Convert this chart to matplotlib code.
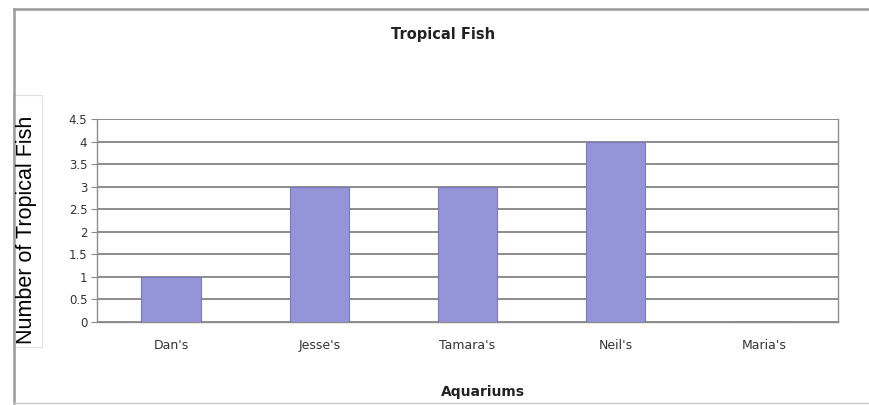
import matplotlib.pyplot as plt
from matplotlib.lines import Line2D
from matplotlib.patches import Rectangle

# data
aquariums = ["Dan's", "Jesse's", "Tamara's", "Neil's", "Maria's"]
fish_counts = [1, 3, 3, 4, 0]
y_ticks = [0, 0.5, 1, 1.5, 2, 2.5, 3, 3.5, 4, 4.5]
y_tick_labels = ["0", "0.5", "1", "1.5", "2", "2.5", "3", "3.5", "4", "4.5"]

W, H = 869, 405
fig = plt.figure(figsize=(W / 100, H / 100), dpi=100)
fig.patch.set_facecolor('white')

# outer chart frame (left, top and bottom edges)
frame_col = '#9a9a9a'
fig.add_artist(Line2D([14 / W, 14 / W], [1 - 9 / H, 1 - 403 / H], color=frame_col, lw=1.8))
fig.add_artist(Line2D([14 / W, 1.0], [1 - 9 / H, 1 - 9 / H], color=frame_col, lw=1.8))
fig.add_artist(Line2D([14 / W, 1.0], [1 - 403 / H, 1 - 403 / H], color='#c8c8c8', lw=1.0))

ax = fig.add_axes([97 / W, 1 - 322 / H, (838 - 97) / W, (322 - 119) / H])
x = list(range(len(aquariums)))
ax.bar(x, fish_counts, width=0.4, color='#9494d8', edgecolor='#7a7ab8', linewidth=0.8, zorder=3)

ax.set_xlim(-0.5, len(aquariums) - 0.5)
ax.set_ylim(0, 4.5)
ax.set_yticks(y_ticks)
ax.set_yticklabels(y_tick_labels)
ax.set_xticks(x)
ax.set_xticklabels(aquariums)

ax.grid(axis='y', color='#8c8c8c', linewidth=1.4, zorder=0)
for side in ['left', 'right', 'bottom']:
    ax.spines[side].set_color('#8c8c8c')
    ax.spines[side].set_linewidth(1.0)
ax.spines['top'].set_visible(False)

ax.tick_params(axis='y', length=4, color='#8c8c8c', labelsize=8.5, labelcolor='#333333', pad=3)
ax.tick_params(axis='x', length=0, labelsize=9, labelcolor='#333333', pad=12)

fig.text(443 / W, 1 - 35 / H, 'Tropical Fish', ha='center', va='center',
         fontsize=10.5, fontweight='bold', color='#222222')
fig.text(483 / W, 1 - 392 / H, 'Aquariums', ha='center', va='center',
         fontsize=10, fontweight='bold', color='#222222')

# y label sits in its own white box
fig.add_artist(Rectangle((13 / W, 1 - 347 / H), 29 / W, 252 / H, facecolor='white',
                         edgecolor='#e0e0e0', lw=0.8))
fig.text(27 / W, 1 - 230 / H, 'Number of Tropical Fish', rotation=90, ha='center', va='center',
         fontsize=15.5, family='Liberation Sans', color='black')

fig.savefig('out.png', dpi=100)
